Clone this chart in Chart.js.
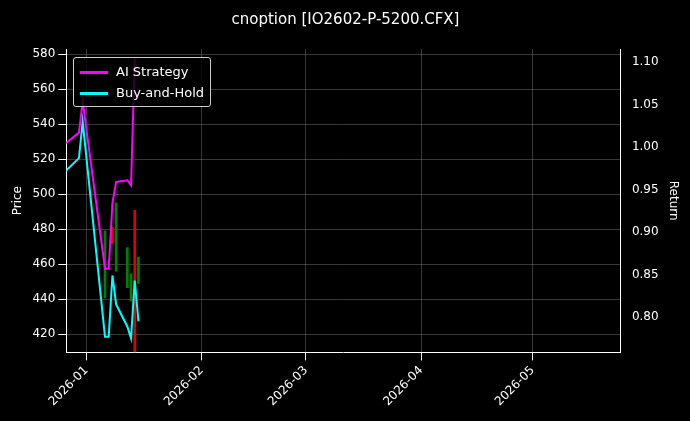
<!DOCTYPE html>
<html>
<head>
<script src="https://cdn.jsdelivr.net/npm/chart.js@4/dist/chart.umd.min.js"></script>
<style>
  body { margin: 0; background: #000; }
  #wrap { position: relative; width: 690px; height: 421px; }
  #legend { position: absolute; left: 73px; top: 57px; border: 1px solid #ccc; border-radius: 3px;
    background: rgba(0,0,0,0.8); color: #fff; font: 13px "DejaVu Sans"; padding: 3px 6px; line-height: 21px; }
  #legend span.sw { display: inline-block; width: 28px; height: 3px; vertical-align: middle; margin-right: 8px; }
</style>
</head>
<body>
<div id="wrap">
  <canvas id="chart" width="690" height="421"></canvas>
  <div id="legend">
    <div><span class="sw" style="background:#ff00ff"></span>AI Strategy</div>
    <div><span class="sw" style="background:#00ffff"></span>Buy-and-Hold</div>
  </div>
</div>
<script>
// jours depuis 2026-01-01
const days = [-6, -2, -1, 5, 6, 7, 8, 11, 12, 13, 14];
const aiReturn = [1.003, 1.017, 1.054, 0.857, 0.857, 0.934, 0.959, 0.961, 0.955, 1.104, null];
const bhReturn = [0.970, 0.987, 1.030, 0.777, 0.777, 0.849, 0.815, 0.789, 0.775, 0.843, 0.795];

const candleDays = [5, 7, 8, 11, 12, 13, 14];
const candleLow = [440.7, 471.8, 456, 446.5, 439, 409.6, 449];
const candleHigh = [479, 481, 495, 469.5, 454.5, 490.8, 464];
const candleUp = [true, false, true, true, true, false, true];

const monthTicks = [0, 31, 59, 90, 120];
const monthLabels = ['2026-01', '2026-02', '2026-03', '2026-04', '2026-05'];

const grid = { color: 'rgba(140,140,140,0.4)', borderDash: [3, 3], drawTicks: true, tickColor: '#fff', offset: false };
const tickFont = { family: 'DejaVu Sans', size: 12 };

new Chart(document.getElementById('chart').getContext('2d'), {
  data: {
    datasets: [
      {
        type: 'bar', yAxisID: 'y',
        data: candleDays.map((d, i) => ({ x: d, y: [candleLow[i], candleHigh[i]] })),
        backgroundColor: candleUp.map(u => u ? '#008000' : '#e00000'),
        barThickness: 2, order: 3
      },
      {
        type: 'line', yAxisID: 'y1',
        data: days.map((d, i) => ({ x: d, y: aiReturn[i] })),
        borderColor: '#ff00ff', borderWidth: 2, pointRadius: 0, order: 1
      },
      {
        type: 'line', yAxisID: 'y1',
        data: days.map((d, i) => ({ x: d, y: bhReturn[i] })),
        borderColor: '#00ffff', borderWidth: 2, pointRadius: 0, order: 2
      }
    ]
  },
  options: {
    responsive: false, animation: false,
    layout: { padding: { top: 5, right: 6, left: 7, bottom: 0 } },
    plugins: {
      legend: { display: false },
      tooltip: { enabled: false },
      title: { display: true, text: 'cnoption [IO2602-P-5200.CFX]', color: '#fff',
        font: { family: 'DejaVu Sans', size: 15, weight: 'normal' }, padding: { top: 6, bottom: 20 } }
    },
    scales: {
      x: {
        type: 'linear', min: -5.4, max: 143.7, offset: false,
        grid: grid, border: { color: '#fff' },
        afterBuildTicks: s => { s.ticks = monthTicks.map(v => ({ value: v })); },
        afterFit: s => { s.height += 9; },
        ticks: { color: '#fff', font: tickFont, maxRotation: 45, minRotation: 45,
          callback: v => monthLabels[monthTicks.indexOf(v)] }
      },
      y: {
        position: 'left', min: 409.6, max: 582.9,
        grid: grid, border: { color: '#fff' },
        afterBuildTicks: s => { s.ticks = [420, 440, 460, 480, 500, 520, 540, 560, 580].map(v => ({ value: v })); },
        ticks: { color: '#fff', font: tickFont },
        title: { display: true, text: 'Price', color: '#fff', font: tickFont }
      },
      y1: {
        position: 'right', min: 0.7585, max: 1.1154,
        grid: { display: false }, border: { color: '#fff' },
        afterBuildTicks: s => { s.ticks = [0.80, 0.85, 0.90, 0.95, 1.00, 1.05, 1.10].map(v => ({ value: v })); },
        ticks: { color: '#fff', font: tickFont, callback: v => v.toFixed(2) },
        title: { display: true, text: 'Return', color: '#fff', font: tickFont }
      }
    }
  }
});
</script>
</body>
</html>
